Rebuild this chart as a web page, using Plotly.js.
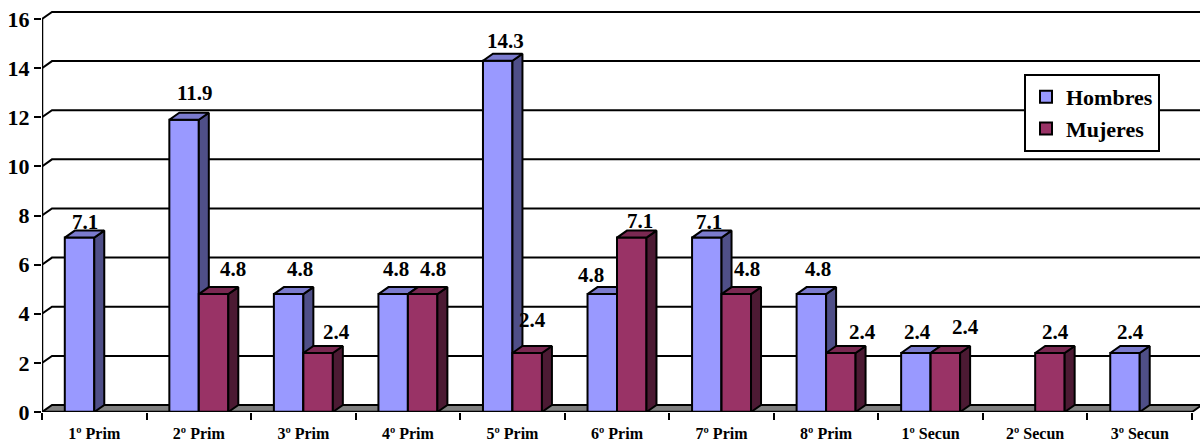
<!DOCTYPE html>
<html><head><meta charset="utf-8">
<script src="https://cdn.plot.ly/plotly-3.0.1.min.js"></script>
<style>html,body{margin:0;padding:0;background:#fff;} #chart{width:1200px;height:444px;}</style>
</head><body><div id="chart"></div>
<script>
// ---- data ----
const categories = ["1º Prim","2º Prim","3º Prim","4º Prim","5º Prim","6º Prim","7º Prim","8º Prim","1º Secun","2º Secun","3º Secun"];
const hombres = [7.1, 11.9, 4.8, 4.8, 14.3, 4.8, 7.1, 4.8, 2.4, null, 2.4];
const mujeres = [null, 4.8, 2.4, 4.8, 2.4, 7.1, 4.8, 2.4, 2.4, 2.4, null];
const yTicks = [0, 2, 4, 6, 8, 10, 12, 14, 16];

// ---- geometry / style ----
const PX_PER_CAT = 104.545, PX_PER_UNIT = 24.5625;
const DX = 10 / PX_PER_CAT, DY = 7 / PX_PER_UNIT;
const BAR_W = 0.282;
const XMAX = -0.5 + 1158 / PX_PER_CAT;
const YMAX = 403 / PX_PER_UNIT;
const FONT = "Liberation Serif";
// label pixel nudges (relative to default placement)
const labelNudge = {
  H0:[-3,-5], H1:[3,6], M1:[11,4], H2:[3,4], M2:[10,0], H3:[-5,4], M3:[2,4],
  H4:[0,-1], M4:[-3,12], H5:[-19,-2], M5:[0,-4], H6:[-6,-5], M6:[3,4],
  H7:[-1,4], M7:[14,0], H8:[-6,0], M8:[12,5], M9:[-2,0], H10:[-2,0]
};

const idx = categories.map((c, i) => i);
const series = [
  {key:'H', name:'Hombres', vals:hombres, off:-BAR_W, front:'#9999FF', side:'#4F4F88', top:'#7B7BCE', xa:'x', ya:'y'},
  {key:'M', name:'Mujeres', vals:mujeres, off:0, front:'#993366', side:'#4C1A33', top:'#7A2952', xa:'x2', ya:'y2'}
];

function faces(vals, off) {
  const side = {x:[], y:[]}, top = {x:[], y:[]};
  vals.forEach((v, i) => {
    if (v == null) return;
    const L = i + off, R = L + BAR_W;
    side.x.push(R, R + DX, R + DX, R, R, null);
    side.y.push(0, DY, v + DY, v, 0, null);
    top.x.push(L, R, R + DX, L + DX, L, null);
    top.y.push(v, v, v + DY, v + DY, v, null);
  });
  return {side, top};
}

const traces = [];
const annotations = [];
series.forEach(s => {
  traces.push({
    type:'bar', name:s.name, x:idx, y:s.vals, width:BAR_W, offset:s.off,
    xaxis:s.xa, yaxis:s.ya, legendgroup:s.key,
    marker:{color:s.front, line:{color:'#000', width:2}}, hoverinfo:'skip'
  });
  const f = faces(s.vals, s.off);
  [['side', s.side], ['top', s.top]].forEach(([k, col]) => {
    traces.push({
      type:'scatter', mode:'lines', x:f[k].x, y:f[k].y, fill:'toself', fillcolor:col,
      line:{color:'#000', width:2}, xaxis:s.xa, yaxis:s.ya, showlegend:false, hoverinfo:'skip'
    });
  });
  s.vals.forEach((v, i) => {
    if (v == null) return;
    const n = labelNudge[s.key + i] || [0, 0];
    annotations.push({
      x: i + s.off + BAR_W / 2, y: v, xref:'x', yref:'y', text: v.toFixed(1), showarrow:false,
      xanchor:'center', yanchor:'middle', xshift: 8 + n[0], yshift: 21 + n[1],
      font:{family:FONT, size:21, color:'#000', weight:'bold'}
    });
  });
});

const shapes = [];
shapes.push({type:'path', xref:'x', yref:'y', layer:'below',
  path:`M -0.5,0 L 10.5,0 L ${10.5 + DX},${DY} L ${-0.5 + DX},${DY} Z`,
  fillcolor:'#808080', line:{color:'#000', width:2}});
yTicks.filter(v => v > 0).forEach(v => {
  shapes.push({type:'path', xref:'x', yref:'y', layer:'below',
    path:`M -0.5,${v} L ${-0.5 + DX},${v + DY} L ${XMAX + 1},${v + DY}`,
    line:{color:'#000', width:2}});
});
shapes.push({type:'line', xref:'x', yref:'y', x0:-0.5, x1:-0.5, y0:0, y1:yTicks[yTicks.length - 1], line:{color:'#000', width:2.5}});
shapes.push({type:'line', xref:'x', yref:'y', x0:-0.5, x1:10.5, y0:0, y1:0, line:{color:'#000', width:2.5}});

const boundaries = categories.map((c, i) => i - 0.5).concat([categories.length - 0.5]);

const layout = {
  width:1200, height:444,
  margin:{l:42, r:0, t:9, b:32, pad:0},
  paper_bgcolor:'#fff', plot_bgcolor:'rgba(0,0,0,0)',
  font:{family:FONT, color:'#000'},
  barmode:'overlay', showlegend:true,
  xaxis:{range:[-0.5, XMAX], tickmode:'array', tickvals:idx, ticktext:categories,
    ticks:'outside', ticklen:7, tickcolor:'rgba(0,0,0,0)', showgrid:false, zeroline:false, showline:false,
    tickfont:{family:FONT, size:16, weight:'bold', color:'#000'},
    minor:{tickmode:'array', tickvals:boundaries, ticks:'outside', ticklen:7, tickwidth:2, tickcolor:'#000', showgrid:false},
    fixedrange:true},
  yaxis:{range:[0, YMAX], tickmode:'array', tickvals:yTicks, ticks:'outside', ticklen:7, tickwidth:2, tickcolor:'#000',
    showgrid:false, zeroline:false, showline:false,
    tickfont:{family:FONT, size:22, weight:'bold', color:'#000'}, fixedrange:true},
  xaxis2:{overlaying:'x', range:[-0.5, XMAX], visible:false, fixedrange:true},
  yaxis2:{overlaying:'y', range:[0, YMAX], visible:false, fixedrange:true},
  shapes:shapes,
  annotations:annotations,
  legend:{x:(1024 - 42) / 1158, y:(412 - 74) / 403, xanchor:'left', yanchor:'top',
    bgcolor:'#fff', bordercolor:'#000', borderwidth:2, traceorder:'grouped', tracegroupgap:0,
    font:{family:FONT, size:22, weight:'bold', color:'#000'}}
};

Plotly.newPlot('chart', traces, layout, {staticPlot:true, displayModeBar:false});
</script></body></html>
